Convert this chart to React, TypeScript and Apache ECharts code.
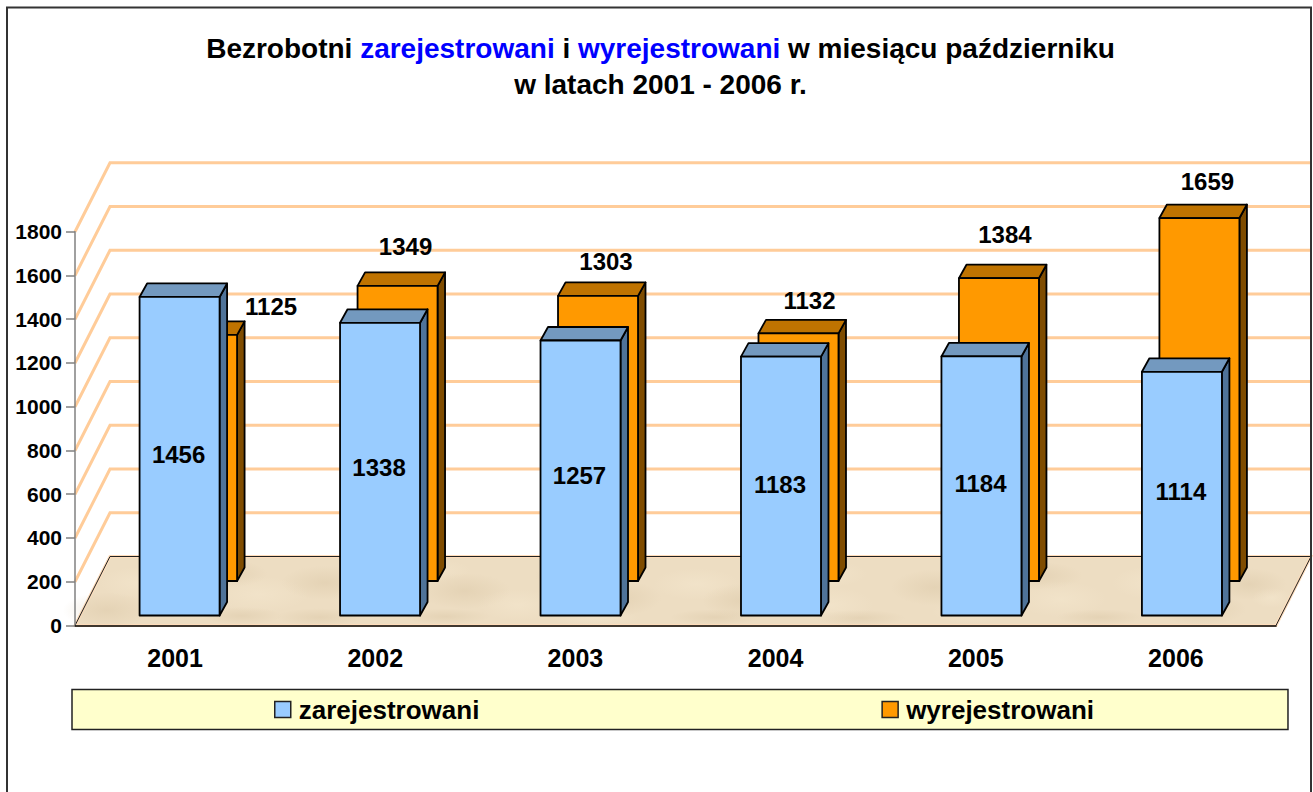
import React, { useEffect, useRef } from "react";
import * as echarts from "echarts";

const categories = ["2001", "2002", "2003", "2004", "2005", "2006"];
const registered = [1456, 1338, 1257, 1183, 1184, 1114];
const deregistered = [1125, 1349, 1303, 1132, 1384, 1659];
const gridValues = [0, 200, 400, 600, 800, 1000, 1200, 1400, 1600, 1800];

// hand-placed offset of the upper labels, as in the reference [dx, dy from cap top]
const orangeLabelNudge = [[74, -15], [8, -26], [8, -21], [11, -19], [6, -30], [8, -23]];

// mottling of the floor texture: [u along the floor, v into the depth, rx, ry, dark?]
const floorBlotches = [
  [0.02, 0.22, 44, 18, 1], [0.035, 0.62, 40, 16, 0], [0.085, 0.3, 46, 15, 0], [0.105, 0.75, 40, 14, 1],
  [0.135, 0.14, 40, 9, 1], [0.14, 0.45, 50, 18, 0], [0.19, 0.62, 44, 17, 1], [0.2, 0.12, 44, 9, 1],
  [0.235, 0.35, 40, 18, 0], [0.27, 0.8, 44, 12, 0], [0.305, 0.13, 44, 8, 1], [0.31, 0.5, 46, 18, 1],
  [0.36, 0.3, 40, 16, 0], [0.4, 0.72, 46, 14, 1], [0.43, 0.11, 46, 8, 0], [0.44, 0.4, 44, 18, 1],
  [0.5, 0.6, 44, 16, 0], [0.53, 0.12, 46, 8, 1], [0.545, 0.36, 40, 17, 1], [0.6, 0.75, 46, 14, 0],
  [0.62, 0.3, 44, 18, 0], [0.65, 0.11, 46, 8, 1], [0.7, 0.55, 44, 18, 1], [0.74, 0.2, 40, 12, 0],
  [0.78, 0.72, 46, 14, 1], [0.81, 0.38, 46, 18, 0], [0.85, 0.12, 44, 8, 1], [0.88, 0.62, 42, 17, 0],
  [0.93, 0.24, 46, 16, 1], [0.96, 0.6, 38, 16, 1], [0.985, 0.4, 20, 10, 0],
];

const FONT = "Liberation Sans";
const DEPTH_X = 35;
const DEPTH_Y = -69;
const BAR_W = 80;
const CAP_X = 7.5;
const CAP_Y = -13.5;

function bar3d(api: any, front: string, top: string, side: string, dx: number, dy: number, textFor: (x: number, yTop: number, yBase: number, v: number, i: number) => any) {
  const i = api.value(0);
  const v = api.value(1);
  const c = api.coord([i, v]);
  const b = api.coord([i, 0]);
  const cx = c[0] + dx + i * 0.3;
  const x0 = cx - BAR_W / 2;
  const x1 = cx + BAR_W / 2;
  const yT = c[1] + dy;
  const yB = b[1] + dy;
  const stroke = { stroke: "#000", lineWidth: 1.8, lineJoin: "round" };
  return {
    type: "group",
    children: [
      { type: "polygon", shape: { points: [[x1, yT], [x1 + CAP_X, yT + CAP_Y], [x1 + CAP_X, yB + CAP_Y], [x1, yB]] }, style: { fill: side, ...stroke } },
      { type: "polygon", shape: { points: [[x0, yT], [x0 + CAP_X, yT + CAP_Y], [x1 + CAP_X, yT + CAP_Y], [x1, yT]] }, style: { fill: top, ...stroke } },
      { type: "rect", shape: { x: x0, y: yT, width: BAR_W, height: yB - yT }, style: { fill: front, ...stroke } },
      textFor(cx, yT, yB, v, i),
    ],
  };
}

const labelStyle = { fontFamily: FONT, fontWeight: "bold", fontSize: 24, fill: "#000", align: "center", verticalAlign: "middle" };

function blotchFill(dark: number) {
  const rgb = dark ? "214,194,160" : "248,236,212";
  return {
    type: "radial",
    x: 0.5,
    y: 0.5,
    r: 0.5,
    colorStops: [
      { offset: 0, color: `rgba(${rgb},0.38)` },
      { offset: 1, color: `rgba(${rgb},0)` },
    ],
  };
}

export default function App() {
  const ref = useRef<HTMLDivElement>(null);
  useEffect(() => {
    const chart = echarts.init(ref.current!, undefined, { renderer: "svg" });
    chart.setOption({
      animation: false,
      backgroundColor: "#fff",
      title: {
        left: 655.5,
        top: 26,
        textAlign: "center",
        text: "{k|Bezrobotni }{b|zarejestrowani}{k| i }{b|wyrejestrowani}{k| w miesiącu październiku}\n{k|w latach 2001 - 2006 r.}",
        textStyle: {
          fontFamily: FONT,
          fontWeight: "bold",
          fontSize: 28,
          lineHeight: 35.5,
          rich: {
            k: { fontFamily: FONT, fontWeight: "bold", fontSize: 28, color: "#000", lineHeight: 35.5 },
            b: { fontFamily: FONT, fontWeight: "bold", fontSize: 28, color: "#0000FF", lineHeight: 35.5 },
          },
        },
      },
      legend: {
        left: 72,
        top: 689.5,
        padding: [7, 194, 7, 202],
        backgroundColor: "#FFFFCC",
        borderColor: "#222",
        borderWidth: 1.5,
        itemGap: 402,
        itemWidth: 16,
        itemHeight: 16,
        icon: "rect",
        selectedMode: false,
        itemStyle: { borderColor: "#222", borderWidth: 1.5 },
        textStyle: { fontFamily: FONT, fontWeight: "bold", fontSize: 26, color: "#000", padding: [0, 0, 0, 3] },
        data: ["zarejestrowani", "wyrejestrowani"],
      },
      grid: { left: 75, top: 231.7, width: 1201, height: 393.8 },
      xAxis: {
        type: "category",
        data: categories,
        z: 6,
        axisLine: { lineStyle: { color: "#000", width: 1.5 } },
        axisTick: { length: 6, lineStyle: { color: "#808080", width: 1.5 } },
        axisLabel: { margin: 20, fontFamily: FONT, fontWeight: "bold", fontSize: 25, color: "#000" },
      },
      yAxis: {
        type: "value",
        min: 0,
        max: 1800,
        interval: 200,
        z: 6,
        splitLine: { show: false },
        axisLine: { show: true, lineStyle: { color: "#808080", width: 1.5 } },
        axisTick: { show: true, length: 9, lineStyle: { color: "#808080", width: 1.5 } },
        axisLabel: { margin: 13, fontFamily: FONT, fontWeight: "bold", fontSize: 21, color: "#000", formatter: (v: number) => String(v) },
      },
      series: [
        {
          type: "custom",
          name: "walls",
          silent: true,
          z: 1,
          data: gridValues.map((v) => [0, v]),
          encode: { x: 0, y: 1 },
          renderItem: (params: any, api: any) => {
            const v = api.value(1);
            const y = api.coord([0, v])[1];
            const xL = params.coordSys.x;
            const w = params.coordSys.width;
            const xR = xL + w;
            const grid = { stroke: "#FFCC99", lineWidth: 3, fill: "none" };
            if (v === 0) {
              return {
                type: "group",
                children: [
                  { type: "polygon", shape: { points: [[xL, y], [xL + DEPTH_X, y + DEPTH_Y], [xR + DEPTH_X, y + DEPTH_Y], [xR, y]] }, style: { fill: "#EDDDC2", stroke: "#FFDDBB", lineWidth: 3 } },
                  ...floorBlotches.map(([u, d, rx, ry, dark]) => ({
                    type: "ellipse",
                    shape: { cx: xL + u * w + d * DEPTH_X, cy: y + d * DEPTH_Y, rx, ry },
                    style: { fill: blotchFill(dark) },
                  })),
                  { type: "polyline", shape: { points: [[xR, y], [xR + DEPTH_X, y + DEPTH_Y], [xL + DEPTH_X, y + DEPTH_Y], [xL, y]] }, style: { stroke: "#222", lineWidth: 1, fill: "none" } },
                ],
              };
            }
            return {
              type: "polyline",
              shape: { points: [[xL, y], [xL + DEPTH_X, y + DEPTH_Y], [xR + DEPTH_X, y + DEPTH_Y]] },
              style: grid,
            };
          },
        },
        {
          type: "custom",
          name: "wyrejestrowani",
          z: 2,
          itemStyle: { color: "#FF9900" },
          data: deregistered.map((v, i) => [i, v]),
          encode: { x: 0, y: 1 },
          renderItem: (_p: any, api: any) =>
            bar3d(api, "#FF9900", "#BF7300", "#7F4C00", 22, -44.5, (cx, yT, _yB, v, i) => ({
              type: "text",
              style: { text: String(v), x: cx + orangeLabelNudge[i][0], y: yT + CAP_Y + orangeLabelNudge[i][1], ...labelStyle },
            })),
        },
        {
          type: "custom",
          name: "zarejestrowani",
          z: 3,
          itemStyle: { color: "#99CCFF" },
          data: registered.map((v, i) => [i, v]),
          encode: { x: 0, y: 1 },
          renderItem: (_p: any, api: any) =>
            bar3d(api, "#99CCFF", "#7399BF", "#4F7399", 4.5, -10, (cx, yT, yB, v) => ({
              type: "text",
              style: { text: String(v), x: cx - 1, y: (yT + yB) / 2 - 2, ...labelStyle },
            })),
        },
      ],
      graphic: [
        {
          type: "polyline",
          silent: true,
          z: 10,
          shape: { points: [[7, 792], [7, 7.5], [1311, 7.5], [1311, 792]] },
          style: { stroke: "#333", lineWidth: 2, fill: "none" },
        },
      ],
    });
    return () => chart.dispose();
  }, []);
  return <div ref={ref} style={{ position: "fixed", left: 0, top: 0, width: 1313, height: 792 }} />;
}
